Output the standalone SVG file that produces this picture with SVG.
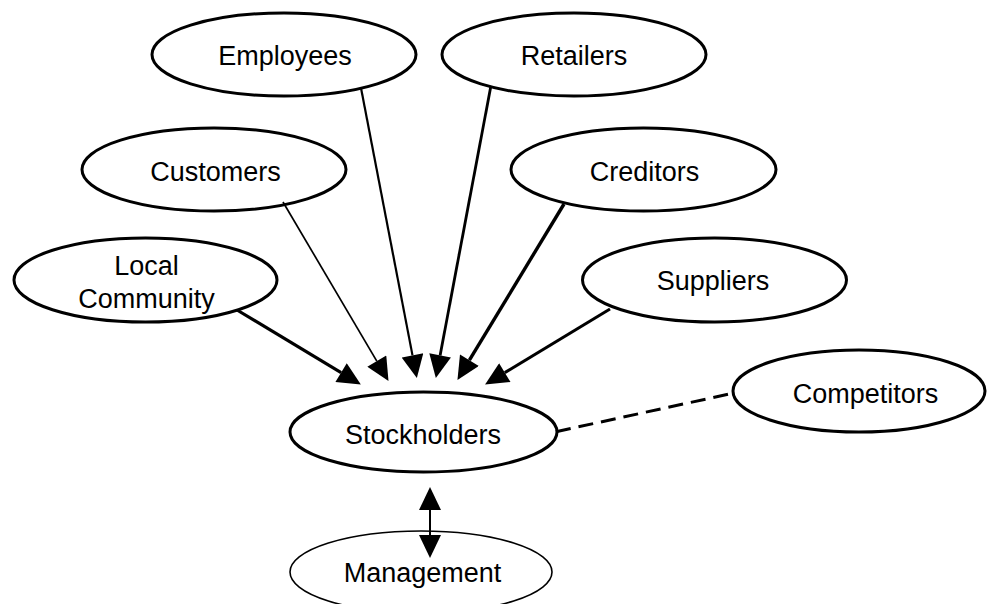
<svg xmlns="http://www.w3.org/2000/svg" width="987" height="604" viewBox="0 0 987 604">
<style>
.node ellipse{fill:#fff;stroke:#000;stroke-width:3}
.node text{font-family:"Liberation Sans",Arial,sans-serif;font-size:27px;fill:#000;text-anchor:middle}
.edge{stroke:#000;fill:none}
</style>
<defs>
<marker id="ah" markerUnits="userSpaceOnUse" markerWidth="24" markerHeight="22" refX="0" refY="10.5" orient="auto-start-reverse" viewBox="0 0 22 21">
<path d="M0,0 L22,10.5 L0,21 Z" fill="#000"/>
</marker>
</defs>
<rect width="987" height="604" fill="#fff"/>
<g id="employees" class="node"><ellipse cx="284" cy="54.5" rx="132" ry="41.5"/><text x="285" y="65">Employees</text></g>
<g id="retailers" class="node"><ellipse cx="574" cy="54.5" rx="132" ry="41.5"/><text x="574" y="64.5">Retailers</text></g>
<g id="customers" class="node"><ellipse cx="214" cy="169.5" rx="132" ry="41.5"/><text x="215.5" y="180.5">Customers</text></g>
<g id="creditors" class="node"><ellipse cx="643.5" cy="169.5" rx="132.5" ry="41.5"/><text x="644.5" y="181">Creditors</text></g>
<g id="local-community" class="node"><ellipse cx="145.5" cy="280" rx="131.5" ry="42"/><text x="146.5" y="275">Local</text><text x="146.5" y="308">Community</text></g>
<g id="suppliers" class="node"><ellipse cx="714.5" cy="280" rx="132" ry="42"/><text x="713" y="290">Suppliers</text></g>
<g id="competitors" class="node"><ellipse cx="859" cy="391" rx="126" ry="41"/><text x="865.5" y="402.5">Competitors</text></g>
<g id="stockholders" class="node"><ellipse cx="423.5" cy="432" rx="133.5" ry="40"/><text x="423" y="444">Stockholders</text></g>
<g id="management" class="node"><ellipse cx="421" cy="572" rx="131" ry="41" style="stroke-width:1.6"/><text x="422.5" y="581.5">Management</text></g>
<g id="connectors">
<line class="edge" x1="237" y1="310" x2="341.1" y2="372.6" stroke-width="3.2" marker-end="url(#ah)"/>
<line class="edge" x1="283" y1="202" x2="376.8" y2="361.1" stroke-width="1.7" marker-end="url(#ah)"/>
<line class="edge" x1="361" y1="88" x2="412.5" y2="355.4" stroke-width="2.2" marker-end="url(#ah)"/>
<line class="edge" x1="490.7" y1="87" x2="440.1" y2="355.4" stroke-width="2.8" marker-end="url(#ah)"/>
<line class="edge" x1="564" y1="204" x2="469.4" y2="360.2" stroke-width="3.4" marker-end="url(#ah)"/>
<line class="edge" x1="610" y1="309" x2="504.8" y2="372.6" stroke-width="3" marker-end="url(#ah)"/>
<line class="edge" x1="556" y1="431.7" x2="734" y2="393" stroke-width="3" stroke-dasharray="15,8"/>
<line class="edge" x1="430" y1="510" x2="430" y2="535" stroke-width="2" marker-start="url(#ah)" marker-end="url(#ah)"/>
</g>
</svg>
